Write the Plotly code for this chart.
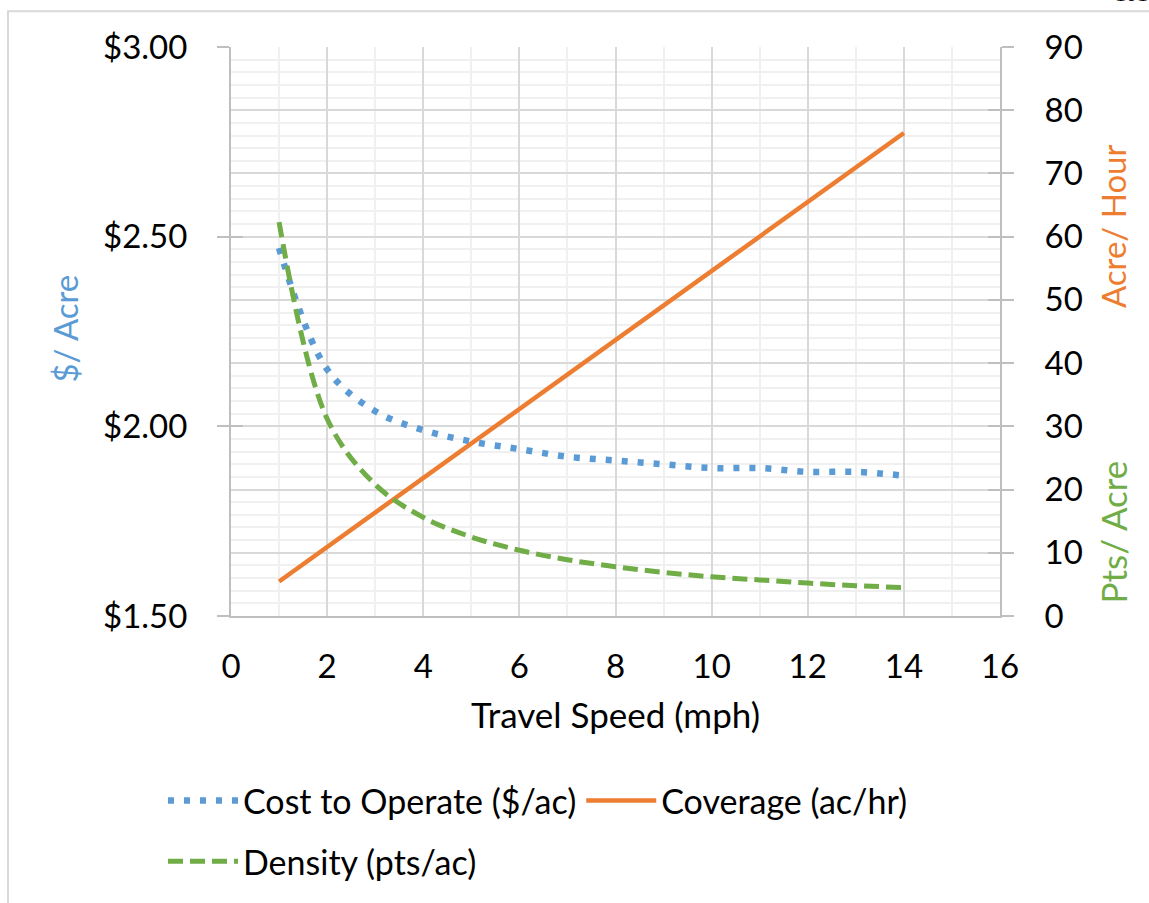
import plotly.graph_objects as go

# Travel speed (mph) and the three response series
speed = [1, 2, 3, 4, 5, 6, 7, 8, 9, 10, 11, 12, 13, 14]
cost_per_acre = [2.47, 2.15, 2.04, 1.99, 1.96, 1.94, 1.92, 1.91, 1.90, 1.89, 1.89, 1.88, 1.88, 1.87]
coverage_ac_hr = [5.45, 10.9, 16.4, 21.8, 27.3, 32.7, 38.2, 43.6, 49.1, 54.5, 60.0, 65.5, 70.9, 76.4]
density_pts_ac = [62.3, 31.2, 20.8, 15.6, 12.5, 10.4, 8.9, 7.8, 6.9, 6.2, 5.7, 5.2, 4.8, 4.5]

names = ["Cost to Operate ($/ac)", "Coverage (ac/hr)", "Density (pts/ac)"]

BLUE = "#5B9BD5"
ORANGE = "#ED7D31"
GREEN = "#70AD47"
FONT = "Lato"
TICK_FS = 33
TITLE_FS = 35
LEGEND_FS = 34
SIDE_FS = 33

W, H = 1149, 903
L, R, T, B = 231, 149, 47, 284
PW, PH = W - L - R, H - T - B


def px_x(px):
    return (px - L) / PW


def px_y(py):
    return (H - B - py) / PH


fig = go.Figure()

fig.add_trace(go.Scatter(
    x=speed, y=cost_per_acre, name=names[0], mode="lines",
    line=dict(color=BLUE, width=6.5, dash="6px,10px", shape="spline", smoothing=1.0),
    yaxis="y", legend="legend",
))
fig.add_trace(go.Scatter(
    x=speed, y=coverage_ac_hr, name=names[1], mode="lines",
    line=dict(color=ORANGE, width=4.5),
    yaxis="y2", legend="legend",
))
fig.add_trace(go.Scatter(
    x=speed, y=density_pts_ac, name=names[2], mode="lines",
    line=dict(color=GREEN, width=5, dash="15px,7px", shape="spline", smoothing=1.0),
    yaxis="y2", legend="legend2",
))

axis_gray = "#bfbfbf"
major_grid = "#d9d9d9"
minor_grid = "#f0f0f0"

fig.update_layout(
    width=W, height=H,
    margin=dict(l=L, r=R, t=T, b=B),
    paper_bgcolor="white", plot_bgcolor="white",
    font=dict(family=FONT, size=TICK_FS, color="black"),
    xaxis=dict(
        range=[0, 16], dtick=2, tick0=0,
        showgrid=True, gridcolor=major_grid, gridwidth=2,
        minor=dict(dtick=1, showgrid=True, gridcolor=minor_grid, gridwidth=2),
        showline=True, linecolor=axis_gray, linewidth=2,
        ticks="", ticklabelstandoff=20,
        tickfont=dict(family=FONT, size=TICK_FS, color="black"),
        title=dict(text="Travel Speed (mph)", standoff=20,
                   font=dict(family=FONT, size=TITLE_FS, color="black")),
        zeroline=False,
    ),
    yaxis=dict(
        range=[1.5, 3.0], dtick=0.5, tick0=1.5, tickformat="$.2f",
        showgrid=False, zeroline=False,
        showline=True, linecolor=axis_gray, linewidth=2,
        ticks="outside", ticklen=12, tickcolor=axis_gray, tickwidth=2,
        ticklabelstandoff=23, tickfont=dict(family=FONT, size=TICK_FS, color="black"),
    ),
    yaxis2=dict(
        range=[0, 90], dtick=10, tick0=0, overlaying="y", side="right",
        showgrid=True, gridcolor=major_grid, gridwidth=2,
        minor=dict(dtick=2, showgrid=True, gridcolor=minor_grid, gridwidth=2),
        zeroline=False,
        showline=True, linecolor=axis_gray, linewidth=2,
        ticks="outside", ticklen=12, tickcolor=axis_gray, tickwidth=2,
        ticklabelstandoff=24, tickfont=dict(family=FONT, size=TICK_FS, color="black"),
    ),
    # inside halves of the cross-style tick marks
    yaxis3=dict(
        range=[1.5, 3.0], dtick=0.5, tick0=1.5, overlaying="y", side="left",
        showgrid=False, zeroline=False, showticklabels=False,
        ticks="inside", ticklen=12, tickcolor=axis_gray, tickwidth=2,
    ),
    yaxis4=dict(
        range=[0, 90], dtick=10, tick0=0, overlaying="y", side="right",
        showgrid=False, zeroline=False, showticklabels=False,
        ticks="inside", ticklen=12, tickcolor=axis_gray, tickwidth=2,
    ),
    showlegend=True,
    legend=dict(
        orientation="h", x=px_x(163), y=px_y(805), xanchor="left", yanchor="middle",
        font=dict(family=FONT, size=LEGEND_FS), itemwidth=70, tracegroupgap=0,
        bgcolor="rgba(0,0,0,0)",
    ),
    legend2=dict(
        orientation="h", x=px_x(163), y=px_y(866), xanchor="left", yanchor="middle",
        font=dict(family=FONT, size=LEGEND_FS), itemwidth=70,
        bgcolor="rgba(0,0,0,0)",
    ),
)

# dummy traces so the overlay tick axes are rendered
fig.add_trace(go.Scatter(x=[None], y=[None], yaxis="y3", showlegend=False, hoverinfo="skip"))
fig.add_trace(go.Scatter(x=[None], y=[None], yaxis="y4", showlegend=False, hoverinfo="skip"))

annotations = [
    dict(text="$/ Acre", textangle=-90, x=px_x(65), y=px_y(330),
         font=dict(color=BLUE, size=SIDE_FS, family=FONT)),
    dict(text="Acre/ Hour", textangle=-90, x=px_x(1113), y=px_y(227),
         font=dict(color=ORANGE, size=SIDE_FS, family=FONT)),
    dict(text="Pts/ Acre", textangle=-90, x=px_x(1113), y=px_y(535),
         font=dict(color=GREEN, size=SIDE_FS + 2, family=FONT)),
    dict(text="101", x=px_x(1113), y=px_y(8), xanchor="left", yanchor="bottom",
         font=dict(color="black", size=22, family="Liberation Serif")),
]
for a in annotations:
    a.update(xref="paper", yref="paper", showarrow=False)
    if "xanchor" not in a:
        a.update(xanchor="center", yanchor="middle")
fig.update_layout(annotations=annotations)

# chart frame
fig.add_shape(type="rect", xref="paper", yref="paper",
              x0=px_x(8), x1=px_x(1160), y0=px_y(915), y1=px_y(11),
              line=dict(color="#d9d9d9", width=2), layer="below")

fig.write_html("out.html")
